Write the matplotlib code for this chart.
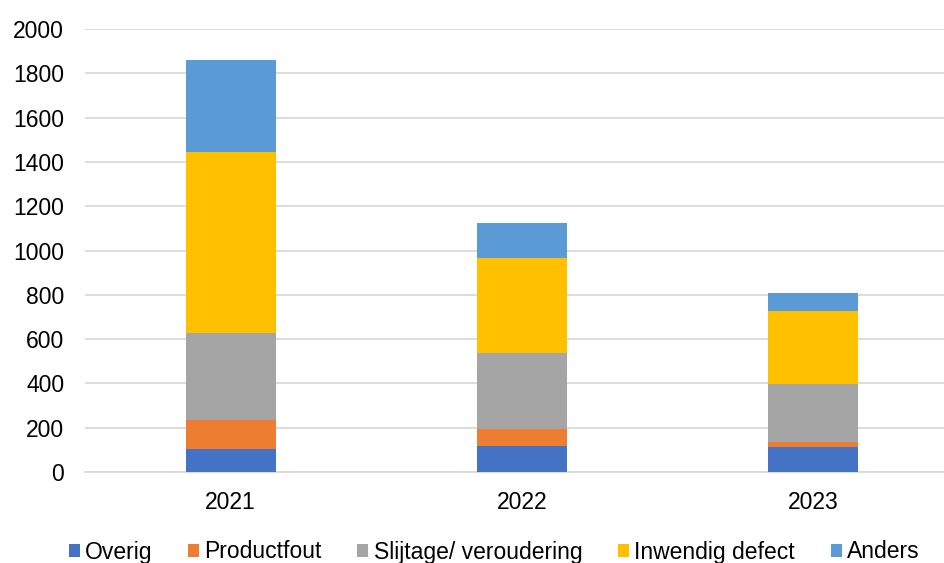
import matplotlib
matplotlib.use("Agg")
import matplotlib.pyplot as plt
import numpy as np

years = ["2021", "2022", "2023"]
series_names = ["Overig", "Productfout", "Slijtage/ veroudering", "Inwendig defect", "Anders"]
overig = [105, 117, 113]
productfout = [130, 77, 22]
slijtage = [392, 343, 261]
inwendig = [816, 429, 331]
anders = [415, 158, 81]
colors = ["#4472C4", "#ED7D31", "#A5A5A5", "#FFC000", "#5B9BD5"]
yticks = [0, 200, 400, 600, 800, 1000, 1200, 1400, 1600, 1800, 2000]

plt.rcParams['font.family'] = ['Liberation Sans', 'DejaVu Sans']

fig = plt.figure(figsize=(9.45, 5.63), dpi=100)
ax = fig.add_axes([85/945, 1 - 472/563, (959-85)/945, (472-29)/563])

x = np.arange(len(years))
bottom = np.zeros(len(years))
for name, vals, c in zip(series_names, [overig, productfout, slijtage, inwendig, anders], colors):
    ax.bar(x, vals, width=0.31, bottom=bottom, color=c, label=name, zorder=3)
    bottom += np.array(vals)

ax.set_xlim(-0.5, 2.5)
ax.set_ylim(0, 2000)
ax.set_yticks(yticks)
ax.set_xticks(x)
ax.set_xticklabels(years)
ax.tick_params(axis='both', length=0, labelsize=16.5, colors='#000000')
ax.tick_params(axis='y', pad=15)
ax.tick_params(axis='x', pad=14)
ax.grid(axis='y', color='#D9D9D9', linewidth=1.3, zorder=0)
for s in ['top', 'right', 'left']:
    ax.spines[s].set_visible(False)
ax.spines['bottom'].set_color('#D9D9D9')
ax.spines['bottom'].set_linewidth(1.3)

fig.legend(loc='center', bbox_to_anchor=(494/945, 1 - 552/563), ncol=5, frameon=False,
           fontsize=16.5, handlelength=0.48, handleheight=0.48, handletextpad=0.22, columnspacing=1.57,
           borderpad=0)

fig.savefig("out.png", dpi=100)
